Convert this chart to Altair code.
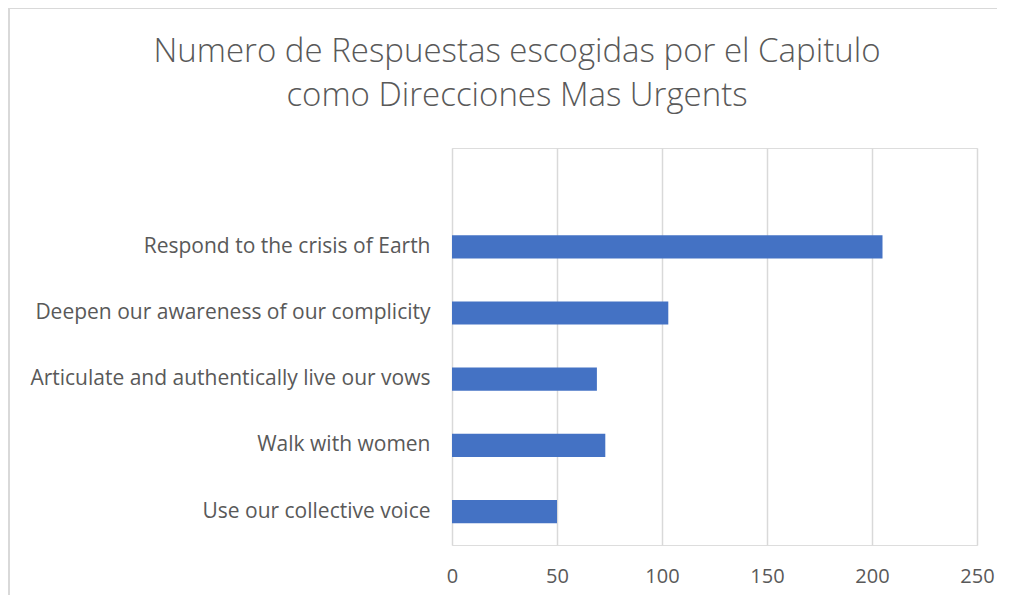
import altair as alt
import pandas as pd

categories = [
    "Respond to the crisis of Earth",
    "Deepen our awareness of our complicity",
    "Articulate and authentically live our vows",
    "Walk with women",
    "Use our collective voice",
]
values = [205, 103, 69, 73, 50]
x_ticks = [0, 50, 100, 150, 200, 250]

title_lines = [
    "Numero de Respuestas escogidas por el Capitulo",
    "como Direcciones Mas Urgents",
]

df = pd.DataFrame({"cat": categories, "val": values})

LABEL_FONT = "Open Sans"
TITLE_FONT = "Open Sans"
GRAY = "#595959"

bars = alt.Chart(df).mark_bar(color="#4472C4").encode(
    x=alt.X(
        "val:Q",
        scale=alt.Scale(domain=[0, 250], nice=False),
        axis=alt.Axis(
            values=x_ticks,
            title=None,
            grid=True,
            gridColor="#d9d9d9",
            gridWidth=1.5,
            domain=False,
            ticks=False,
            labelFlush=False,
            labelFont=LABEL_FONT,
            labelFontSize=20,
            labelColor=GRAY,
            labelPadding=21,
        ),
    ),
    y=alt.Y(
        "cat:N",
        sort=categories,
        scale=alt.Scale(paddingInner=0.65, paddingOuter=0.8235, align=0.8),
        axis=alt.Axis(
            title=None,
            domain=False,
            ticks=False,
            grid=False,
            labelFont=LABEL_FONT,
            labelFontSize=21,
            labelColor=GRAY,
            labelPadding=22,
            labelLimit=500,
        ),
    ),
)

title1 = alt.Chart(pd.DataFrame({"t": [title_lines[0]]})).mark_text(
    font=TITLE_FONT, fontSize=33, fontWeight=300, color=GRAY, align="center", baseline="middle"
).encode(text="t:N", x=alt.value(65), y=alt.value(-96))
title2 = alt.Chart(pd.DataFrame({"t": [title_lines[1]]})).mark_text(
    font=TITLE_FONT, fontSize=33, fontWeight=300, color=GRAY, align="center", baseline="middle"
).encode(text="t:N", x=alt.value(65), y=alt.value(-52))

border_top = alt.Chart(df).mark_rule(color="#d9d9d9", strokeWidth=1).encode(
    x=alt.value(-443), x2=alt.value(545), y=alt.value(-139.5)
)
border_left = alt.Chart(df).mark_rule(color="#d9d9d9", strokeWidth=1.5).encode(
    x=alt.value(-443), y=alt.value(-140), y2=alt.value(447)
)

chart = alt.layer(bars, title1, title2, border_top, border_left).properties(
    width=525,
    height=397,
    autosize=alt.AutoSizeParams(type="none"),
    padding={"left": 444, "top": 140, "right": 28, "bottom": 50},
).configure_view(stroke="transparent", strokeWidth=0).configure(background="white")

chart.save("out.html", embed_options={"renderer": "svg", "actions": False})
